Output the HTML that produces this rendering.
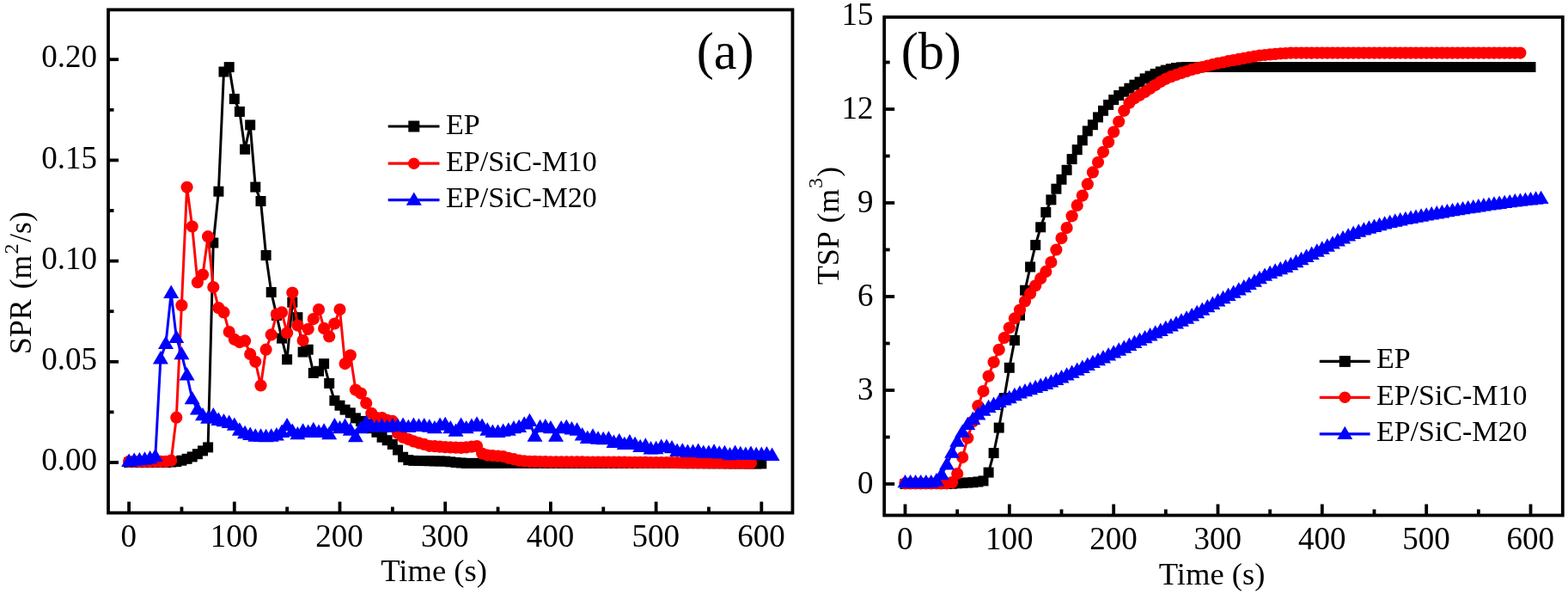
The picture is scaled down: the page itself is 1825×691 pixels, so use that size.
<!DOCTYPE html>
<html><head><meta charset="utf-8"><title>SPR and TSP curves</title>
<style>
html,body{margin:0;padding:0;background:#fff;}
svg{display:block;font-family:'Liberation Serif', 'Times New Roman', serif;}
text{fill:#000;}
</style></head>
<body>
<svg width="1825" height="691" viewBox="0 0 1825 691">
<rect width="1825" height="691" fill="#fff"/>
<path d="M150.1 538.0L156.2 538.0L162.4 538.0L168.5 538.0L174.6 538.0L180.8 538.0L186.9 538.0L193.0 538.0L199.2 537.5L205.3 537.1L211.4 535.7L217.6 533.8L223.7 531.4L229.9 528.2L236.0 524.4L242.1 520.4L248.3 282.5L254.4 222.7L260.5 83.5L266.7 78.1L272.8 115.1L278.9 129.9L285.1 173.7L291.2 145.4L297.3 217.6L303.5 234.0L309.6 297.0L315.7 339.9L321.9 366.9L328.0 393.6L334.1 418.2L340.3 351.7L346.4 369.2L352.6 409.5L358.7 406.7L364.8 433.9L371.0 431.8L377.1 423.1L383.2 445.9L389.4 466.0L395.5 471.7L401.6 476.6L407.8 480.3L413.9 486.4L420.0 489.9L426.2 493.5L432.3 498.2L438.4 502.8L444.6 508.7L450.7 512.2L456.8 516.9L463.0 523.5L469.1 531.7L475.3 535.2L481.4 535.9L487.5 536.0L493.7 536.1L499.8 536.2L505.9 536.4L512.1 536.5L518.2 536.6L524.3 537.3L530.5 538.0L536.6 538.5L542.7 538.9L548.9 538.9L555.0 538.9L561.1 538.9L567.3 538.9L573.4 538.9L579.5 538.9L585.7 538.8L591.8 538.7L598.0 538.7L604.1 538.7L610.2 538.7L616.4 538.7L622.5 538.7L628.6 538.7L634.8 538.7L640.9 538.7L647.0 538.7L653.2 538.7L659.3 538.7L665.4 538.7L671.6 538.7L677.7 538.7L683.8 538.7L690.0 538.7L696.1 538.7L702.2 538.7L708.4 538.7L714.5 538.8L720.7 538.8L726.8 538.8L732.9 538.8L739.1 538.8L745.2 538.9L751.3 538.9L757.5 538.9L763.6 538.9L769.7 539.0L775.9 539.0L782.0 539.0L788.1 539.0L794.3 539.1L800.4 539.1L806.5 539.1L812.7 539.1L818.8 539.1L824.9 539.2L831.1 539.2L837.2 539.2L843.4 539.2L849.5 539.3L855.6 539.3L861.8 539.3L867.9 539.3L874.0 539.4L880.2 539.4L886.3 539.4" fill="none" stroke="#000" stroke-width="3.0" stroke-linejoin="round"/>
<g><rect x="144.1" y="532.0" width="12.0" height="12.0" fill="#000"/><rect x="150.2" y="532.0" width="12.0" height="12.0" fill="#000"/><rect x="156.4" y="532.0" width="12.0" height="12.0" fill="#000"/><rect x="162.5" y="532.0" width="12.0" height="12.0" fill="#000"/><rect x="168.6" y="532.0" width="12.0" height="12.0" fill="#000"/><rect x="174.8" y="532.0" width="12.0" height="12.0" fill="#000"/><rect x="180.9" y="532.0" width="12.0" height="12.0" fill="#000"/><rect x="187.0" y="532.0" width="12.0" height="12.0" fill="#000"/><rect x="193.2" y="531.5" width="12.0" height="12.0" fill="#000"/><rect x="199.3" y="531.1" width="12.0" height="12.0" fill="#000"/><rect x="205.4" y="529.7" width="12.0" height="12.0" fill="#000"/><rect x="211.6" y="527.8" width="12.0" height="12.0" fill="#000"/><rect x="217.7" y="525.4" width="12.0" height="12.0" fill="#000"/><rect x="223.9" y="522.2" width="12.0" height="12.0" fill="#000"/><rect x="230.0" y="518.4" width="12.0" height="12.0" fill="#000"/><rect x="236.1" y="514.4" width="12.0" height="12.0" fill="#000"/><rect x="242.3" y="276.5" width="12.0" height="12.0" fill="#000"/><rect x="248.4" y="216.7" width="12.0" height="12.0" fill="#000"/><rect x="254.5" y="77.5" width="12.0" height="12.0" fill="#000"/><rect x="260.7" y="72.1" width="12.0" height="12.0" fill="#000"/><rect x="266.8" y="109.1" width="12.0" height="12.0" fill="#000"/><rect x="272.9" y="123.9" width="12.0" height="12.0" fill="#000"/><rect x="279.1" y="167.7" width="12.0" height="12.0" fill="#000"/><rect x="285.2" y="139.4" width="12.0" height="12.0" fill="#000"/><rect x="291.3" y="211.6" width="12.0" height="12.0" fill="#000"/><rect x="297.5" y="228.0" width="12.0" height="12.0" fill="#000"/><rect x="303.6" y="291.0" width="12.0" height="12.0" fill="#000"/><rect x="309.7" y="333.9" width="12.0" height="12.0" fill="#000"/><rect x="315.9" y="360.9" width="12.0" height="12.0" fill="#000"/><rect x="322.0" y="387.6" width="12.0" height="12.0" fill="#000"/><rect x="328.1" y="412.2" width="12.0" height="12.0" fill="#000"/><rect x="334.3" y="345.7" width="12.0" height="12.0" fill="#000"/><rect x="340.4" y="363.2" width="12.0" height="12.0" fill="#000"/><rect x="346.6" y="403.5" width="12.0" height="12.0" fill="#000"/><rect x="352.7" y="400.7" width="12.0" height="12.0" fill="#000"/><rect x="358.8" y="427.9" width="12.0" height="12.0" fill="#000"/><rect x="365.0" y="425.8" width="12.0" height="12.0" fill="#000"/><rect x="371.1" y="417.1" width="12.0" height="12.0" fill="#000"/><rect x="377.2" y="439.9" width="12.0" height="12.0" fill="#000"/><rect x="383.4" y="460.0" width="12.0" height="12.0" fill="#000"/><rect x="389.5" y="465.7" width="12.0" height="12.0" fill="#000"/><rect x="395.6" y="470.6" width="12.0" height="12.0" fill="#000"/><rect x="401.8" y="474.3" width="12.0" height="12.0" fill="#000"/><rect x="407.9" y="480.4" width="12.0" height="12.0" fill="#000"/><rect x="414.0" y="483.9" width="12.0" height="12.0" fill="#000"/><rect x="420.2" y="487.5" width="12.0" height="12.0" fill="#000"/><rect x="426.3" y="492.2" width="12.0" height="12.0" fill="#000"/><rect x="432.4" y="496.8" width="12.0" height="12.0" fill="#000"/><rect x="438.6" y="502.7" width="12.0" height="12.0" fill="#000"/><rect x="444.7" y="506.2" width="12.0" height="12.0" fill="#000"/><rect x="450.8" y="510.9" width="12.0" height="12.0" fill="#000"/><rect x="457.0" y="517.5" width="12.0" height="12.0" fill="#000"/><rect x="463.1" y="525.7" width="12.0" height="12.0" fill="#000"/><rect x="469.3" y="529.2" width="12.0" height="12.0" fill="#000"/><rect x="475.4" y="529.9" width="12.0" height="12.0" fill="#000"/><rect x="481.5" y="530.0" width="12.0" height="12.0" fill="#000"/><rect x="487.7" y="530.1" width="12.0" height="12.0" fill="#000"/><rect x="493.8" y="530.2" width="12.0" height="12.0" fill="#000"/><rect x="499.9" y="530.4" width="12.0" height="12.0" fill="#000"/><rect x="506.1" y="530.5" width="12.0" height="12.0" fill="#000"/><rect x="512.2" y="530.6" width="12.0" height="12.0" fill="#000"/><rect x="518.3" y="531.3" width="12.0" height="12.0" fill="#000"/><rect x="524.5" y="532.0" width="12.0" height="12.0" fill="#000"/><rect x="530.6" y="532.5" width="12.0" height="12.0" fill="#000"/><rect x="536.7" y="532.9" width="12.0" height="12.0" fill="#000"/><rect x="542.9" y="532.9" width="12.0" height="12.0" fill="#000"/><rect x="549.0" y="532.9" width="12.0" height="12.0" fill="#000"/><rect x="555.1" y="532.9" width="12.0" height="12.0" fill="#000"/><rect x="561.3" y="532.9" width="12.0" height="12.0" fill="#000"/><rect x="567.4" y="532.9" width="12.0" height="12.0" fill="#000"/><rect x="573.5" y="532.9" width="12.0" height="12.0" fill="#000"/><rect x="579.7" y="532.8" width="12.0" height="12.0" fill="#000"/><rect x="585.8" y="532.7" width="12.0" height="12.0" fill="#000"/><rect x="592.0" y="532.7" width="12.0" height="12.0" fill="#000"/><rect x="598.1" y="532.7" width="12.0" height="12.0" fill="#000"/><rect x="604.2" y="532.7" width="12.0" height="12.0" fill="#000"/><rect x="610.4" y="532.7" width="12.0" height="12.0" fill="#000"/><rect x="616.5" y="532.7" width="12.0" height="12.0" fill="#000"/><rect x="622.6" y="532.7" width="12.0" height="12.0" fill="#000"/><rect x="628.8" y="532.7" width="12.0" height="12.0" fill="#000"/><rect x="634.9" y="532.7" width="12.0" height="12.0" fill="#000"/><rect x="641.0" y="532.7" width="12.0" height="12.0" fill="#000"/><rect x="647.2" y="532.7" width="12.0" height="12.0" fill="#000"/><rect x="653.3" y="532.7" width="12.0" height="12.0" fill="#000"/><rect x="659.4" y="532.7" width="12.0" height="12.0" fill="#000"/><rect x="665.6" y="532.7" width="12.0" height="12.0" fill="#000"/><rect x="671.7" y="532.7" width="12.0" height="12.0" fill="#000"/><rect x="677.8" y="532.7" width="12.0" height="12.0" fill="#000"/><rect x="684.0" y="532.7" width="12.0" height="12.0" fill="#000"/><rect x="690.1" y="532.7" width="12.0" height="12.0" fill="#000"/><rect x="696.2" y="532.7" width="12.0" height="12.0" fill="#000"/><rect x="702.4" y="532.7" width="12.0" height="12.0" fill="#000"/><rect x="708.5" y="532.8" width="12.0" height="12.0" fill="#000"/><rect x="714.7" y="532.8" width="12.0" height="12.0" fill="#000"/><rect x="720.8" y="532.8" width="12.0" height="12.0" fill="#000"/><rect x="726.9" y="532.8" width="12.0" height="12.0" fill="#000"/><rect x="733.1" y="532.8" width="12.0" height="12.0" fill="#000"/><rect x="739.2" y="532.9" width="12.0" height="12.0" fill="#000"/><rect x="745.3" y="532.9" width="12.0" height="12.0" fill="#000"/><rect x="751.5" y="532.9" width="12.0" height="12.0" fill="#000"/><rect x="757.6" y="532.9" width="12.0" height="12.0" fill="#000"/><rect x="763.7" y="533.0" width="12.0" height="12.0" fill="#000"/><rect x="769.9" y="533.0" width="12.0" height="12.0" fill="#000"/><rect x="776.0" y="533.0" width="12.0" height="12.0" fill="#000"/><rect x="782.1" y="533.0" width="12.0" height="12.0" fill="#000"/><rect x="788.3" y="533.1" width="12.0" height="12.0" fill="#000"/><rect x="794.4" y="533.1" width="12.0" height="12.0" fill="#000"/><rect x="800.5" y="533.1" width="12.0" height="12.0" fill="#000"/><rect x="806.7" y="533.1" width="12.0" height="12.0" fill="#000"/><rect x="812.8" y="533.1" width="12.0" height="12.0" fill="#000"/><rect x="818.9" y="533.2" width="12.0" height="12.0" fill="#000"/><rect x="825.1" y="533.2" width="12.0" height="12.0" fill="#000"/><rect x="831.2" y="533.2" width="12.0" height="12.0" fill="#000"/><rect x="837.4" y="533.2" width="12.0" height="12.0" fill="#000"/><rect x="843.5" y="533.3" width="12.0" height="12.0" fill="#000"/><rect x="849.6" y="533.3" width="12.0" height="12.0" fill="#000"/><rect x="855.8" y="533.3" width="12.0" height="12.0" fill="#000"/><rect x="861.9" y="533.3" width="12.0" height="12.0" fill="#000"/><rect x="868.0" y="533.4" width="12.0" height="12.0" fill="#000"/><rect x="874.2" y="533.4" width="12.0" height="12.0" fill="#000"/><rect x="880.3" y="533.4" width="12.0" height="12.0" fill="#000"/></g>
<path d="M150.1 536.8L156.2 536.8L162.4 536.8L168.5 536.8L174.6 536.8L180.8 536.8L186.9 536.8L193.0 536.8L199.2 535.7L205.3 485.7L211.4 355.2L217.6 217.8L223.7 263.5L229.9 328.4L236.0 319.5L242.1 275.2L248.3 334.1L254.4 358.2L260.5 363.4L266.7 386.1L272.8 394.8L278.9 398.1L285.1 396.4L291.2 411.9L297.3 420.8L303.5 448.5L309.6 406.7L315.7 389.4L321.9 365.7L328.0 363.4L334.1 387.3L340.3 340.6L346.4 378.6L352.6 396.0L358.7 382.8L364.8 371.1L371.0 360.1L377.1 381.9L383.2 391.5L389.4 376.5L395.5 360.1L401.6 423.1L407.8 413.3L413.9 453.6L420.0 457.6L426.2 468.9L432.3 480.8L438.4 486.0L444.6 486.0L450.7 488.8L456.8 489.9L463.0 504.0L469.1 508.7L475.3 511.0L481.4 513.4L487.5 515.3L493.7 516.9L499.8 518.8L505.9 519.2L512.1 519.7L518.2 520.2L524.3 520.4L530.5 520.7L536.6 520.9L542.7 520.4L548.9 519.7L555.0 519.0L561.1 527.5L567.3 529.6L573.4 530.0L579.5 530.5L585.7 531.0L591.8 532.8L598.0 534.2L604.1 535.7L610.2 536.4L616.4 536.8L622.5 536.9L628.6 537.1L634.8 537.2L640.9 537.3L647.0 537.3L653.2 537.3L659.3 537.4L665.4 537.4L671.6 537.4L677.7 537.4L683.8 537.5L690.0 537.5L696.1 537.5L702.2 537.5L708.4 537.6L714.5 537.6L720.7 537.7L726.8 537.7L732.9 537.8L739.1 537.8L745.2 537.9L751.3 537.9L757.5 538.0L763.6 538.0L769.7 538.0L775.9 538.1L782.0 538.1L788.1 538.2L794.3 538.2L800.4 538.3L806.5 538.3L812.7 538.4L818.8 538.4L824.9 538.5L831.1 538.5L837.2 538.5L843.4 538.6L849.5 538.6L855.6 538.6L861.8 538.6L867.9 538.7L874.0 538.7" fill="none" stroke="#ff0000" stroke-width="3.0" stroke-linejoin="round"/>
<g><circle cx="150.1" cy="536.8" r="7.1" fill="#ff0000"/><circle cx="156.2" cy="536.8" r="7.1" fill="#ff0000"/><circle cx="162.4" cy="536.8" r="7.1" fill="#ff0000"/><circle cx="168.5" cy="536.8" r="7.1" fill="#ff0000"/><circle cx="174.6" cy="536.8" r="7.1" fill="#ff0000"/><circle cx="180.8" cy="536.8" r="7.1" fill="#ff0000"/><circle cx="186.9" cy="536.8" r="7.1" fill="#ff0000"/><circle cx="193.0" cy="536.8" r="7.1" fill="#ff0000"/><circle cx="199.2" cy="535.7" r="7.1" fill="#ff0000"/><circle cx="205.3" cy="485.7" r="7.1" fill="#ff0000"/><circle cx="211.4" cy="355.2" r="7.1" fill="#ff0000"/><circle cx="217.6" cy="217.8" r="7.1" fill="#ff0000"/><circle cx="223.7" cy="263.5" r="7.1" fill="#ff0000"/><circle cx="229.9" cy="328.4" r="7.1" fill="#ff0000"/><circle cx="236.0" cy="319.5" r="7.1" fill="#ff0000"/><circle cx="242.1" cy="275.2" r="7.1" fill="#ff0000"/><circle cx="248.3" cy="334.1" r="7.1" fill="#ff0000"/><circle cx="254.4" cy="358.2" r="7.1" fill="#ff0000"/><circle cx="260.5" cy="363.4" r="7.1" fill="#ff0000"/><circle cx="266.7" cy="386.1" r="7.1" fill="#ff0000"/><circle cx="272.8" cy="394.8" r="7.1" fill="#ff0000"/><circle cx="278.9" cy="398.1" r="7.1" fill="#ff0000"/><circle cx="285.1" cy="396.4" r="7.1" fill="#ff0000"/><circle cx="291.2" cy="411.9" r="7.1" fill="#ff0000"/><circle cx="297.3" cy="420.8" r="7.1" fill="#ff0000"/><circle cx="303.5" cy="448.5" r="7.1" fill="#ff0000"/><circle cx="309.6" cy="406.7" r="7.1" fill="#ff0000"/><circle cx="315.7" cy="389.4" r="7.1" fill="#ff0000"/><circle cx="321.9" cy="365.7" r="7.1" fill="#ff0000"/><circle cx="328.0" cy="363.4" r="7.1" fill="#ff0000"/><circle cx="334.1" cy="387.3" r="7.1" fill="#ff0000"/><circle cx="340.3" cy="340.6" r="7.1" fill="#ff0000"/><circle cx="346.4" cy="378.6" r="7.1" fill="#ff0000"/><circle cx="352.6" cy="396.0" r="7.1" fill="#ff0000"/><circle cx="358.7" cy="382.8" r="7.1" fill="#ff0000"/><circle cx="364.8" cy="371.1" r="7.1" fill="#ff0000"/><circle cx="371.0" cy="360.1" r="7.1" fill="#ff0000"/><circle cx="377.1" cy="381.9" r="7.1" fill="#ff0000"/><circle cx="383.2" cy="391.5" r="7.1" fill="#ff0000"/><circle cx="389.4" cy="376.5" r="7.1" fill="#ff0000"/><circle cx="395.5" cy="360.1" r="7.1" fill="#ff0000"/><circle cx="401.6" cy="423.1" r="7.1" fill="#ff0000"/><circle cx="407.8" cy="413.3" r="7.1" fill="#ff0000"/><circle cx="413.9" cy="453.6" r="7.1" fill="#ff0000"/><circle cx="420.0" cy="457.6" r="7.1" fill="#ff0000"/><circle cx="426.2" cy="468.9" r="7.1" fill="#ff0000"/><circle cx="432.3" cy="480.8" r="7.1" fill="#ff0000"/><circle cx="438.4" cy="486.0" r="7.1" fill="#ff0000"/><circle cx="444.6" cy="486.0" r="7.1" fill="#ff0000"/><circle cx="450.7" cy="488.8" r="7.1" fill="#ff0000"/><circle cx="456.8" cy="489.9" r="7.1" fill="#ff0000"/><circle cx="463.0" cy="504.0" r="7.1" fill="#ff0000"/><circle cx="469.1" cy="508.7" r="7.1" fill="#ff0000"/><circle cx="475.3" cy="511.0" r="7.1" fill="#ff0000"/><circle cx="481.4" cy="513.4" r="7.1" fill="#ff0000"/><circle cx="487.5" cy="515.3" r="7.1" fill="#ff0000"/><circle cx="493.7" cy="516.9" r="7.1" fill="#ff0000"/><circle cx="499.8" cy="518.8" r="7.1" fill="#ff0000"/><circle cx="505.9" cy="519.2" r="7.1" fill="#ff0000"/><circle cx="512.1" cy="519.7" r="7.1" fill="#ff0000"/><circle cx="518.2" cy="520.2" r="7.1" fill="#ff0000"/><circle cx="524.3" cy="520.4" r="7.1" fill="#ff0000"/><circle cx="530.5" cy="520.7" r="7.1" fill="#ff0000"/><circle cx="536.6" cy="520.9" r="7.1" fill="#ff0000"/><circle cx="542.7" cy="520.4" r="7.1" fill="#ff0000"/><circle cx="548.9" cy="519.7" r="7.1" fill="#ff0000"/><circle cx="555.0" cy="519.0" r="7.1" fill="#ff0000"/><circle cx="561.1" cy="527.5" r="7.1" fill="#ff0000"/><circle cx="567.3" cy="529.6" r="7.1" fill="#ff0000"/><circle cx="573.4" cy="530.0" r="7.1" fill="#ff0000"/><circle cx="579.5" cy="530.5" r="7.1" fill="#ff0000"/><circle cx="585.7" cy="531.0" r="7.1" fill="#ff0000"/><circle cx="591.8" cy="532.8" r="7.1" fill="#ff0000"/><circle cx="598.0" cy="534.2" r="7.1" fill="#ff0000"/><circle cx="604.1" cy="535.7" r="7.1" fill="#ff0000"/><circle cx="610.2" cy="536.4" r="7.1" fill="#ff0000"/><circle cx="616.4" cy="536.8" r="7.1" fill="#ff0000"/><circle cx="622.5" cy="536.9" r="7.1" fill="#ff0000"/><circle cx="628.6" cy="537.1" r="7.1" fill="#ff0000"/><circle cx="634.8" cy="537.2" r="7.1" fill="#ff0000"/><circle cx="640.9" cy="537.3" r="7.1" fill="#ff0000"/><circle cx="647.0" cy="537.3" r="7.1" fill="#ff0000"/><circle cx="653.2" cy="537.3" r="7.1" fill="#ff0000"/><circle cx="659.3" cy="537.4" r="7.1" fill="#ff0000"/><circle cx="665.4" cy="537.4" r="7.1" fill="#ff0000"/><circle cx="671.6" cy="537.4" r="7.1" fill="#ff0000"/><circle cx="677.7" cy="537.4" r="7.1" fill="#ff0000"/><circle cx="683.8" cy="537.5" r="7.1" fill="#ff0000"/><circle cx="690.0" cy="537.5" r="7.1" fill="#ff0000"/><circle cx="696.1" cy="537.5" r="7.1" fill="#ff0000"/><circle cx="702.2" cy="537.5" r="7.1" fill="#ff0000"/><circle cx="708.4" cy="537.6" r="7.1" fill="#ff0000"/><circle cx="714.5" cy="537.6" r="7.1" fill="#ff0000"/><circle cx="720.7" cy="537.7" r="7.1" fill="#ff0000"/><circle cx="726.8" cy="537.7" r="7.1" fill="#ff0000"/><circle cx="732.9" cy="537.8" r="7.1" fill="#ff0000"/><circle cx="739.1" cy="537.8" r="7.1" fill="#ff0000"/><circle cx="745.2" cy="537.9" r="7.1" fill="#ff0000"/><circle cx="751.3" cy="537.9" r="7.1" fill="#ff0000"/><circle cx="757.5" cy="538.0" r="7.1" fill="#ff0000"/><circle cx="763.6" cy="538.0" r="7.1" fill="#ff0000"/><circle cx="769.7" cy="538.0" r="7.1" fill="#ff0000"/><circle cx="775.9" cy="538.1" r="7.1" fill="#ff0000"/><circle cx="782.0" cy="538.1" r="7.1" fill="#ff0000"/><circle cx="788.1" cy="538.2" r="7.1" fill="#ff0000"/><circle cx="794.3" cy="538.2" r="7.1" fill="#ff0000"/><circle cx="800.4" cy="538.3" r="7.1" fill="#ff0000"/><circle cx="806.5" cy="538.3" r="7.1" fill="#ff0000"/><circle cx="812.7" cy="538.4" r="7.1" fill="#ff0000"/><circle cx="818.8" cy="538.4" r="7.1" fill="#ff0000"/><circle cx="824.9" cy="538.5" r="7.1" fill="#ff0000"/><circle cx="831.1" cy="538.5" r="7.1" fill="#ff0000"/><circle cx="837.2" cy="538.5" r="7.1" fill="#ff0000"/><circle cx="843.4" cy="538.6" r="7.1" fill="#ff0000"/><circle cx="849.5" cy="538.6" r="7.1" fill="#ff0000"/><circle cx="855.6" cy="538.6" r="7.1" fill="#ff0000"/><circle cx="861.8" cy="538.6" r="7.1" fill="#ff0000"/><circle cx="867.9" cy="538.7" r="7.1" fill="#ff0000"/><circle cx="874.0" cy="538.7" r="7.1" fill="#ff0000"/></g>
<path d="M150.1 536.8L156.2 535.7L162.4 535.2L168.5 534.5L174.6 533.3L180.8 531.0L186.9 417.3L193.0 399.7L199.2 340.9L205.3 392.9L211.4 412.1L217.6 436.3L223.7 464.2L229.9 476.4L236.0 483.2L242.1 486.7L248.3 483.2L254.4 488.8L260.5 490.2L266.7 491.8L272.8 494.6L278.9 500.5L285.1 504.0L291.2 505.9L297.3 507.5L303.5 507.5L309.6 508.0L315.7 507.5L321.9 506.4L328.0 502.8L334.1 495.1L340.3 501.7L346.4 505.2L352.6 501.4L358.7 502.8L364.8 500.0L371.0 502.8L377.1 501.4L383.2 505.2L389.4 495.1L395.5 498.2L401.6 495.8L407.8 500.5L413.9 508.0L420.0 498.2L426.2 492.1L432.3 495.8L438.4 497.0L444.6 495.8L450.7 497.0L456.8 495.1L463.0 495.8L469.1 494.6L475.3 497.0L481.4 494.6L487.5 495.8L493.7 495.1L499.8 496.5L505.9 498.2L512.1 494.6L518.2 493.9L524.3 498.2L530.5 501.7L536.6 494.6L542.7 498.2L548.9 495.8L555.0 493.5L561.1 495.8L567.3 500.5L573.4 502.8L579.5 502.8L585.7 501.7L591.8 500.5L598.0 498.2L604.1 497.0L610.2 493.5L616.4 489.9L622.5 507.5L628.6 497.0L634.8 496.3L640.9 498.2L647.0 507.5L653.2 498.2L659.3 497.0L665.4 499.3L671.6 500.5L677.7 506.4L683.8 509.9L690.0 507.5L696.1 510.6L702.2 511.0L708.4 510.6L714.5 514.8L720.7 513.2L726.8 516.9L732.9 514.3L739.1 516.9L745.2 520.0L751.3 518.5L757.5 522.3L763.6 522.1L769.7 519.6L775.9 519.7L782.0 521.1L788.1 524.9L794.3 524.4L800.4 525.8L806.5 525.7L812.7 524.6L818.8 526.6L824.9 526.7L831.1 525.5L837.2 527.5L843.4 527.0L849.5 529.1L855.6 526.7L861.8 527.9L867.9 528.7L874.0 527.7L880.2 529.0L886.3 528.9L892.4 528.3L898.6 529.8" fill="none" stroke="#0000ff" stroke-width="3.0" stroke-linejoin="round"/>
<g><path d="M150.1 527.6L159.1 543.0L141.1 543.0Z" fill="#0000ff"/><path d="M156.2 526.4L165.2 541.8L147.2 541.8Z" fill="#0000ff"/><path d="M162.4 525.9L171.4 541.3L153.4 541.3Z" fill="#0000ff"/><path d="M168.5 525.2L177.5 540.6L159.5 540.6Z" fill="#0000ff"/><path d="M174.6 524.1L183.6 539.5L165.6 539.5Z" fill="#0000ff"/><path d="M180.8 521.7L189.8 537.1L171.8 537.1Z" fill="#0000ff"/><path d="M186.9 408.0L195.9 423.4L177.9 423.4Z" fill="#0000ff"/><path d="M193.0 390.5L202.0 405.9L184.0 405.9Z" fill="#0000ff"/><path d="M199.2 331.6L208.2 347.0L190.2 347.0Z" fill="#0000ff"/><path d="M205.3 383.7L214.3 399.1L196.3 399.1Z" fill="#0000ff"/><path d="M211.4 402.9L220.4 418.3L202.4 418.3Z" fill="#0000ff"/><path d="M217.6 427.0L226.6 442.4L208.6 442.4Z" fill="#0000ff"/><path d="M223.7 454.9L232.7 470.3L214.7 470.3Z" fill="#0000ff"/><path d="M229.9 467.1L238.9 482.5L220.9 482.5Z" fill="#0000ff"/><path d="M236.0 473.9L245.0 489.3L227.0 489.3Z" fill="#0000ff"/><path d="M242.1 477.4L251.1 492.8L233.1 492.8Z" fill="#0000ff"/><path d="M248.3 473.9L257.3 489.3L239.3 489.3Z" fill="#0000ff"/><path d="M254.4 479.5L263.4 494.9L245.4 494.9Z" fill="#0000ff"/><path d="M260.5 480.9L269.5 496.3L251.5 496.3Z" fill="#0000ff"/><path d="M266.7 482.6L275.7 498.0L257.7 498.0Z" fill="#0000ff"/><path d="M272.8 485.4L281.8 500.8L263.8 500.8Z" fill="#0000ff"/><path d="M278.9 491.3L287.9 506.7L269.9 506.7Z" fill="#0000ff"/><path d="M285.1 494.8L294.1 510.2L276.1 510.2Z" fill="#0000ff"/><path d="M291.2 496.6L300.2 512.0L282.2 512.0Z" fill="#0000ff"/><path d="M297.3 498.3L306.3 513.7L288.3 513.7Z" fill="#0000ff"/><path d="M303.5 498.3L312.5 513.7L294.5 513.7Z" fill="#0000ff"/><path d="M309.6 498.8L318.6 514.2L300.6 514.2Z" fill="#0000ff"/><path d="M315.7 498.3L324.7 513.7L306.7 513.7Z" fill="#0000ff"/><path d="M321.9 497.1L330.9 512.5L312.9 512.5Z" fill="#0000ff"/><path d="M328.0 493.6L337.0 509.0L319.0 509.0Z" fill="#0000ff"/><path d="M334.1 485.9L343.1 501.3L325.1 501.3Z" fill="#0000ff"/><path d="M340.3 492.4L349.3 507.8L331.3 507.8Z" fill="#0000ff"/><path d="M346.4 495.9L355.4 511.3L337.4 511.3Z" fill="#0000ff"/><path d="M352.6 492.2L361.6 507.6L343.6 507.6Z" fill="#0000ff"/><path d="M358.7 493.6L367.7 509.0L349.7 509.0Z" fill="#0000ff"/><path d="M364.8 490.8L373.8 506.2L355.8 506.2Z" fill="#0000ff"/><path d="M371.0 493.6L380.0 509.0L362.0 509.0Z" fill="#0000ff"/><path d="M377.1 492.2L386.1 507.6L368.1 507.6Z" fill="#0000ff"/><path d="M383.2 495.9L392.2 511.3L374.2 511.3Z" fill="#0000ff"/><path d="M389.4 485.9L398.4 501.3L380.4 501.3Z" fill="#0000ff"/><path d="M395.5 488.9L404.5 504.3L386.5 504.3Z" fill="#0000ff"/><path d="M401.6 486.6L410.6 502.0L392.6 502.0Z" fill="#0000ff"/><path d="M407.8 491.3L416.8 506.7L398.8 506.7Z" fill="#0000ff"/><path d="M413.9 498.8L422.9 514.2L404.9 514.2Z" fill="#0000ff"/><path d="M420.0 488.9L429.0 504.3L411.0 504.3Z" fill="#0000ff"/><path d="M426.2 482.8L435.2 498.2L417.2 498.2Z" fill="#0000ff"/><path d="M432.3 486.6L441.3 502.0L423.3 502.0Z" fill="#0000ff"/><path d="M438.4 487.7L447.4 503.1L429.4 503.1Z" fill="#0000ff"/><path d="M444.6 486.6L453.6 502.0L435.6 502.0Z" fill="#0000ff"/><path d="M450.7 487.7L459.7 503.1L441.7 503.1Z" fill="#0000ff"/><path d="M456.8 485.9L465.8 501.3L447.8 501.3Z" fill="#0000ff"/><path d="M463.0 486.6L472.0 502.0L454.0 502.0Z" fill="#0000ff"/><path d="M469.1 485.4L478.1 500.8L460.1 500.8Z" fill="#0000ff"/><path d="M475.3 487.7L484.3 503.1L466.3 503.1Z" fill="#0000ff"/><path d="M481.4 485.4L490.4 500.8L472.4 500.8Z" fill="#0000ff"/><path d="M487.5 486.6L496.5 502.0L478.5 502.0Z" fill="#0000ff"/><path d="M493.7 485.9L502.7 501.3L484.7 501.3Z" fill="#0000ff"/><path d="M499.8 487.3L508.8 502.7L490.8 502.7Z" fill="#0000ff"/><path d="M505.9 488.9L514.9 504.3L496.9 504.3Z" fill="#0000ff"/><path d="M512.1 485.4L521.1 500.8L503.1 500.8Z" fill="#0000ff"/><path d="M518.2 484.7L527.2 500.1L509.2 500.1Z" fill="#0000ff"/><path d="M524.3 488.9L533.3 504.3L515.3 504.3Z" fill="#0000ff"/><path d="M530.5 492.4L539.5 507.8L521.5 507.8Z" fill="#0000ff"/><path d="M536.6 485.4L545.6 500.8L527.6 500.8Z" fill="#0000ff"/><path d="M542.7 488.9L551.7 504.3L533.7 504.3Z" fill="#0000ff"/><path d="M548.9 486.6L557.9 502.0L539.9 502.0Z" fill="#0000ff"/><path d="M555.0 484.2L564.0 499.6L546.0 499.6Z" fill="#0000ff"/><path d="M561.1 486.6L570.1 502.0L552.1 502.0Z" fill="#0000ff"/><path d="M567.3 491.3L576.3 506.7L558.3 506.7Z" fill="#0000ff"/><path d="M573.4 493.6L582.4 509.0L564.4 509.0Z" fill="#0000ff"/><path d="M579.5 493.6L588.5 509.0L570.5 509.0Z" fill="#0000ff"/><path d="M585.7 492.4L594.7 507.8L576.7 507.8Z" fill="#0000ff"/><path d="M591.8 491.3L600.8 506.7L582.8 506.7Z" fill="#0000ff"/><path d="M598.0 488.9L607.0 504.3L589.0 504.3Z" fill="#0000ff"/><path d="M604.1 487.7L613.1 503.1L595.1 503.1Z" fill="#0000ff"/><path d="M610.2 484.2L619.2 499.6L601.2 499.6Z" fill="#0000ff"/><path d="M616.4 480.7L625.4 496.1L607.4 496.1Z" fill="#0000ff"/><path d="M622.5 498.3L631.5 513.7L613.5 513.7Z" fill="#0000ff"/><path d="M628.6 487.7L637.6 503.1L619.6 503.1Z" fill="#0000ff"/><path d="M634.8 487.0L643.8 502.4L625.8 502.4Z" fill="#0000ff"/><path d="M640.9 488.9L649.9 504.3L631.9 504.3Z" fill="#0000ff"/><path d="M647.0 498.3L656.0 513.7L638.0 513.7Z" fill="#0000ff"/><path d="M653.2 488.9L662.2 504.3L644.2 504.3Z" fill="#0000ff"/><path d="M659.3 487.7L668.3 503.1L650.3 503.1Z" fill="#0000ff"/><path d="M665.4 490.1L674.4 505.5L656.4 505.5Z" fill="#0000ff"/><path d="M671.6 491.3L680.6 506.7L662.6 506.7Z" fill="#0000ff"/><path d="M677.7 497.1L686.7 512.5L668.7 512.5Z" fill="#0000ff"/><path d="M683.8 500.6L692.8 516.0L674.8 516.0Z" fill="#0000ff"/><path d="M690.0 498.3L699.0 513.7L681.0 513.7Z" fill="#0000ff"/><path d="M696.1 501.3L705.1 516.7L687.1 516.7Z" fill="#0000ff"/><path d="M702.2 501.8L711.2 517.2L693.2 517.2Z" fill="#0000ff"/><path d="M708.4 501.3L717.4 516.7L699.4 516.7Z" fill="#0000ff"/><path d="M714.5 505.6L723.5 521.0L705.5 521.0Z" fill="#0000ff"/><path d="M720.7 503.9L729.7 519.3L711.7 519.3Z" fill="#0000ff"/><path d="M726.8 507.7L735.8 523.1L717.8 523.1Z" fill="#0000ff"/><path d="M732.9 505.1L741.9 520.5L723.9 520.5Z" fill="#0000ff"/><path d="M739.1 507.7L748.1 523.1L730.1 523.1Z" fill="#0000ff"/><path d="M745.2 510.7L754.2 526.1L736.2 526.1Z" fill="#0000ff"/><path d="M751.3 509.3L760.3 524.7L742.3 524.7Z" fill="#0000ff"/><path d="M757.5 513.1L766.5 528.5L748.5 528.5Z" fill="#0000ff"/><path d="M763.6 512.8L772.6 528.2L754.6 528.2Z" fill="#0000ff"/><path d="M769.7 510.4L778.7 525.8L760.7 525.8Z" fill="#0000ff"/><path d="M775.9 510.5L784.9 525.9L766.9 525.9Z" fill="#0000ff"/><path d="M782.0 511.9L791.0 527.3L773.0 527.3Z" fill="#0000ff"/><path d="M788.1 515.6L797.1 531.0L779.1 531.0Z" fill="#0000ff"/><path d="M794.3 515.2L803.3 530.6L785.3 530.6Z" fill="#0000ff"/><path d="M800.4 516.6L809.4 532.0L791.4 532.0Z" fill="#0000ff"/><path d="M806.5 516.5L815.5 531.9L797.5 531.9Z" fill="#0000ff"/><path d="M812.7 515.4L821.7 530.8L803.7 530.8Z" fill="#0000ff"/><path d="M818.8 517.4L827.8 532.8L809.8 532.8Z" fill="#0000ff"/><path d="M824.9 517.5L833.9 532.9L815.9 532.9Z" fill="#0000ff"/><path d="M831.1 516.2L840.1 531.6L822.1 531.6Z" fill="#0000ff"/><path d="M837.2 518.2L846.2 533.6L828.2 533.6Z" fill="#0000ff"/><path d="M843.4 517.7L852.4 533.1L834.4 533.1Z" fill="#0000ff"/><path d="M849.5 519.9L858.5 535.3L840.5 535.3Z" fill="#0000ff"/><path d="M855.6 517.5L864.6 532.9L846.6 532.9Z" fill="#0000ff"/><path d="M861.8 518.7L870.8 534.1L852.8 534.1Z" fill="#0000ff"/><path d="M867.9 519.5L876.9 534.9L858.9 534.9Z" fill="#0000ff"/><path d="M874.0 518.4L883.0 533.8L865.0 533.8Z" fill="#0000ff"/><path d="M880.2 519.7L889.2 535.1L871.2 535.1Z" fill="#0000ff"/><path d="M886.3 519.6L895.3 535.0L877.3 535.0Z" fill="#0000ff"/><path d="M892.4 519.0L901.4 534.4L883.4 534.4Z" fill="#0000ff"/><path d="M898.6 520.6L907.6 536.0L889.6 536.0Z" fill="#0000ff"/></g>
<rect x="126.0" y="11.35" width="796.45" height="585.25" fill="none" stroke="#000" stroke-width="3.8"/>
<line x1="126.0" y1="538.00" x2="138.0" y2="538.00" stroke="#000" stroke-width="3.8"/>
<text x="112.90" y="547.20" font-size="37" text-anchor="end">0.00</text>
<line x1="126.0" y1="479.40" x2="132.5" y2="479.40" stroke="#000" stroke-width="3.8"/>
<line x1="126.0" y1="420.80" x2="138.0" y2="420.80" stroke="#000" stroke-width="3.8"/>
<text x="112.90" y="430.00" font-size="37" text-anchor="end">0.05</text>
<line x1="126.0" y1="362.20" x2="132.5" y2="362.20" stroke="#000" stroke-width="3.8"/>
<line x1="126.0" y1="303.60" x2="138.0" y2="303.60" stroke="#000" stroke-width="3.8"/>
<text x="112.90" y="312.80" font-size="37" text-anchor="end">0.10</text>
<line x1="126.0" y1="245.00" x2="132.5" y2="245.00" stroke="#000" stroke-width="3.8"/>
<line x1="126.0" y1="186.40" x2="138.0" y2="186.40" stroke="#000" stroke-width="3.8"/>
<text x="112.90" y="195.60" font-size="37" text-anchor="end">0.15</text>
<line x1="126.0" y1="127.80" x2="132.5" y2="127.80" stroke="#000" stroke-width="3.8"/>
<line x1="126.0" y1="69.20" x2="138.0" y2="69.20" stroke="#000" stroke-width="3.8"/>
<text x="112.90" y="78.40" font-size="37" text-anchor="end">0.20</text>
<line x1="150.10" y1="596.6" x2="150.10" y2="583.6" stroke="#000" stroke-width="3.8"/>
<text x="149.70" y="635.70" font-size="37" text-anchor="middle">0</text>
<line x1="211.45" y1="596.6" x2="211.45" y2="589.6" stroke="#000" stroke-width="3.8"/>
<line x1="272.80" y1="596.6" x2="272.80" y2="583.6" stroke="#000" stroke-width="3.8"/>
<text x="272.40" y="635.70" font-size="37" text-anchor="middle">100</text>
<line x1="334.15" y1="596.6" x2="334.15" y2="589.6" stroke="#000" stroke-width="3.8"/>
<line x1="395.50" y1="596.6" x2="395.50" y2="583.6" stroke="#000" stroke-width="3.8"/>
<text x="395.10" y="635.70" font-size="37" text-anchor="middle">200</text>
<line x1="456.85" y1="596.6" x2="456.85" y2="589.6" stroke="#000" stroke-width="3.8"/>
<line x1="518.20" y1="596.6" x2="518.20" y2="583.6" stroke="#000" stroke-width="3.8"/>
<text x="517.80" y="635.70" font-size="37" text-anchor="middle">300</text>
<line x1="579.55" y1="596.6" x2="579.55" y2="589.6" stroke="#000" stroke-width="3.8"/>
<line x1="640.90" y1="596.6" x2="640.90" y2="583.6" stroke="#000" stroke-width="3.8"/>
<text x="640.50" y="635.70" font-size="37" text-anchor="middle">400</text>
<line x1="702.25" y1="596.6" x2="702.25" y2="589.6" stroke="#000" stroke-width="3.8"/>
<line x1="763.60" y1="596.6" x2="763.60" y2="583.6" stroke="#000" stroke-width="3.8"/>
<text x="763.20" y="635.70" font-size="37" text-anchor="middle">500</text>
<line x1="824.95" y1="596.6" x2="824.95" y2="589.6" stroke="#000" stroke-width="3.8"/>
<line x1="886.30" y1="596.6" x2="886.30" y2="583.6" stroke="#000" stroke-width="3.8"/>
<text x="885.90" y="635.70" font-size="37" text-anchor="middle">600</text>
<text x="443.30" y="675.80" font-size="36.6">Time (s)</text>
<text transform="translate(36.3,0) rotate(-90)" font-size="35.5"><tspan x="-412.3" font-size="36">SPR</tspan><tspan x="-336.3">(m</tspan><tspan dx="1.3" dy="-15.3" font-size="24">2</tspan><tspan dx="1.8" dy="15.3">/s)</tspan></text>
<text x="844.20" y="80.20" font-size="60.3" text-anchor="middle">(a)</text>
<line x1="451.7" y1="147" x2="511.5" y2="147" stroke="#000" stroke-width="3.2"/>
<rect x="475.3" y="140.5" width="13.0" height="13.0" fill="#000"/>
<text x="519.10" y="155.80" font-size="34">EP</text>
<line x1="451.7" y1="190.2" x2="511.5" y2="190.2" stroke="#ff0000" stroke-width="3.2"/>
<circle cx="481.8" cy="190.2" r="6.8" fill="#ff0000"/>
<text x="519.10" y="198.50" font-size="34">EP/SiC-M10</text>
<line x1="451.7" y1="232.6" x2="511.5" y2="232.6" stroke="#0000ff" stroke-width="3.2"/>
<path d="M481.8 223.4L490.8 238.8L472.8 238.8Z" fill="#0000ff"/>
<text x="519.10" y="241.20" font-size="34">EP/SiC-M20</text>
<path d="M1053.5 563.0L1059.6 563.0L1065.6 563.0L1071.7 563.0L1077.8 563.0L1083.8 563.0L1089.9 563.0L1096.0 563.0L1102.0 563.0L1108.1 562.6L1114.2 562.3L1120.2 561.9L1126.3 561.5L1132.4 561.2L1138.4 560.5L1144.5 559.4L1150.6 549.6L1156.6 527.0L1162.7 497.6L1168.8 463.1L1174.8 427.8L1180.9 395.9L1187.0 366.8L1193.0 337.7L1199.1 310.5L1205.2 285.1L1211.2 264.3L1217.3 246.9L1223.4 232.4L1229.4 219.7L1235.5 208.8L1241.6 197.8L1247.6 185.1L1253.7 174.2L1259.8 163.3L1265.8 152.4L1271.9 145.2L1278.0 136.4L1284.0 128.8L1290.1 121.9L1296.2 116.1L1302.2 111.0L1308.3 106.7L1314.4 102.7L1320.4 98.7L1326.5 95.4L1332.6 91.4L1338.6 88.5L1344.7 85.9L1350.8 83.4L1356.8 81.6L1362.9 80.1L1369.0 79.0L1375.0 78.3L1381.1 78.0L1387.2 78.0L1393.2 78.0L1399.3 78.0L1405.4 78.0L1411.4 78.0L1417.5 78.0L1423.6 78.0L1429.6 78.0L1435.7 78.0L1441.8 78.0L1447.8 78.0L1453.9 78.0L1460.0 78.0L1466.0 78.0L1472.1 78.0L1478.2 78.0L1484.2 78.0L1490.3 78.0L1496.4 78.0L1502.4 78.0L1508.5 78.0L1514.6 78.0L1520.6 78.0L1526.7 78.0L1532.8 78.0L1538.8 78.0L1544.9 78.0L1551.0 78.0L1557.0 78.0L1563.1 78.0L1569.2 78.0L1575.2 78.0L1581.3 78.0L1587.4 78.0L1593.4 78.0L1599.5 78.0L1605.6 78.0L1611.6 78.0L1617.7 78.0L1623.8 78.0L1629.8 78.0L1635.9 78.0L1642.0 78.0L1648.0 78.0L1654.1 78.0L1660.2 78.0L1666.2 78.0L1672.3 78.0L1678.4 78.0L1684.4 78.0L1690.5 78.0L1696.6 78.0L1702.6 78.0L1708.7 78.0L1714.8 78.0L1720.8 78.0L1726.9 78.0L1733.0 78.0L1739.0 78.0L1745.1 78.0L1751.2 78.0L1757.2 78.0L1763.3 78.0L1769.4 78.0L1775.4 78.0L1781.5 78.0" fill="none" stroke="#000" stroke-width="3.0" stroke-linejoin="round"/>
<g><rect x="1047.5" y="557.0" width="12.0" height="12.0" fill="#000"/><rect x="1053.6" y="557.0" width="12.0" height="12.0" fill="#000"/><rect x="1059.6" y="557.0" width="12.0" height="12.0" fill="#000"/><rect x="1065.7" y="557.0" width="12.0" height="12.0" fill="#000"/><rect x="1071.8" y="557.0" width="12.0" height="12.0" fill="#000"/><rect x="1077.8" y="557.0" width="12.0" height="12.0" fill="#000"/><rect x="1083.9" y="557.0" width="12.0" height="12.0" fill="#000"/><rect x="1090.0" y="557.0" width="12.0" height="12.0" fill="#000"/><rect x="1096.0" y="557.0" width="12.0" height="12.0" fill="#000"/><rect x="1102.1" y="556.6" width="12.0" height="12.0" fill="#000"/><rect x="1108.2" y="556.3" width="12.0" height="12.0" fill="#000"/><rect x="1114.2" y="555.9" width="12.0" height="12.0" fill="#000"/><rect x="1120.3" y="555.5" width="12.0" height="12.0" fill="#000"/><rect x="1126.4" y="555.2" width="12.0" height="12.0" fill="#000"/><rect x="1132.4" y="554.5" width="12.0" height="12.0" fill="#000"/><rect x="1138.5" y="553.4" width="12.0" height="12.0" fill="#000"/><rect x="1144.6" y="543.6" width="12.0" height="12.0" fill="#000"/><rect x="1150.6" y="521.0" width="12.0" height="12.0" fill="#000"/><rect x="1156.7" y="491.6" width="12.0" height="12.0" fill="#000"/><rect x="1162.8" y="457.1" width="12.0" height="12.0" fill="#000"/><rect x="1168.8" y="421.8" width="12.0" height="12.0" fill="#000"/><rect x="1174.9" y="389.9" width="12.0" height="12.0" fill="#000"/><rect x="1181.0" y="360.8" width="12.0" height="12.0" fill="#000"/><rect x="1187.0" y="331.7" width="12.0" height="12.0" fill="#000"/><rect x="1193.1" y="304.5" width="12.0" height="12.0" fill="#000"/><rect x="1199.2" y="279.1" width="12.0" height="12.0" fill="#000"/><rect x="1205.2" y="258.3" width="12.0" height="12.0" fill="#000"/><rect x="1211.3" y="240.9" width="12.0" height="12.0" fill="#000"/><rect x="1217.4" y="226.4" width="12.0" height="12.0" fill="#000"/><rect x="1223.4" y="213.7" width="12.0" height="12.0" fill="#000"/><rect x="1229.5" y="202.8" width="12.0" height="12.0" fill="#000"/><rect x="1235.6" y="191.8" width="12.0" height="12.0" fill="#000"/><rect x="1241.6" y="179.1" width="12.0" height="12.0" fill="#000"/><rect x="1247.7" y="168.2" width="12.0" height="12.0" fill="#000"/><rect x="1253.8" y="157.3" width="12.0" height="12.0" fill="#000"/><rect x="1259.8" y="146.4" width="12.0" height="12.0" fill="#000"/><rect x="1265.9" y="139.2" width="12.0" height="12.0" fill="#000"/><rect x="1272.0" y="130.4" width="12.0" height="12.0" fill="#000"/><rect x="1278.0" y="122.8" width="12.0" height="12.0" fill="#000"/><rect x="1284.1" y="115.9" width="12.0" height="12.0" fill="#000"/><rect x="1290.2" y="110.1" width="12.0" height="12.0" fill="#000"/><rect x="1296.2" y="105.0" width="12.0" height="12.0" fill="#000"/><rect x="1302.3" y="100.7" width="12.0" height="12.0" fill="#000"/><rect x="1308.4" y="96.7" width="12.0" height="12.0" fill="#000"/><rect x="1314.4" y="92.7" width="12.0" height="12.0" fill="#000"/><rect x="1320.5" y="89.4" width="12.0" height="12.0" fill="#000"/><rect x="1326.6" y="85.4" width="12.0" height="12.0" fill="#000"/><rect x="1332.6" y="82.5" width="12.0" height="12.0" fill="#000"/><rect x="1338.7" y="79.9" width="12.0" height="12.0" fill="#000"/><rect x="1344.8" y="77.4" width="12.0" height="12.0" fill="#000"/><rect x="1350.8" y="75.6" width="12.0" height="12.0" fill="#000"/><rect x="1356.9" y="74.1" width="12.0" height="12.0" fill="#000"/><rect x="1363.0" y="73.0" width="12.0" height="12.0" fill="#000"/><rect x="1369.0" y="72.3" width="12.0" height="12.0" fill="#000"/><rect x="1375.1" y="72.0" width="12.0" height="12.0" fill="#000"/><rect x="1381.2" y="72.0" width="12.0" height="12.0" fill="#000"/><rect x="1387.2" y="72.0" width="12.0" height="12.0" fill="#000"/><rect x="1393.3" y="72.0" width="12.0" height="12.0" fill="#000"/><rect x="1399.4" y="72.0" width="12.0" height="12.0" fill="#000"/><rect x="1405.4" y="72.0" width="12.0" height="12.0" fill="#000"/><rect x="1411.5" y="72.0" width="12.0" height="12.0" fill="#000"/><rect x="1417.6" y="72.0" width="12.0" height="12.0" fill="#000"/><rect x="1423.6" y="72.0" width="12.0" height="12.0" fill="#000"/><rect x="1429.7" y="72.0" width="12.0" height="12.0" fill="#000"/><rect x="1435.8" y="72.0" width="12.0" height="12.0" fill="#000"/><rect x="1441.8" y="72.0" width="12.0" height="12.0" fill="#000"/><rect x="1447.9" y="72.0" width="12.0" height="12.0" fill="#000"/><rect x="1454.0" y="72.0" width="12.0" height="12.0" fill="#000"/><rect x="1460.0" y="72.0" width="12.0" height="12.0" fill="#000"/><rect x="1466.1" y="72.0" width="12.0" height="12.0" fill="#000"/><rect x="1472.2" y="72.0" width="12.0" height="12.0" fill="#000"/><rect x="1478.2" y="72.0" width="12.0" height="12.0" fill="#000"/><rect x="1484.3" y="72.0" width="12.0" height="12.0" fill="#000"/><rect x="1490.4" y="72.0" width="12.0" height="12.0" fill="#000"/><rect x="1496.4" y="72.0" width="12.0" height="12.0" fill="#000"/><rect x="1502.5" y="72.0" width="12.0" height="12.0" fill="#000"/><rect x="1508.6" y="72.0" width="12.0" height="12.0" fill="#000"/><rect x="1514.6" y="72.0" width="12.0" height="12.0" fill="#000"/><rect x="1520.7" y="72.0" width="12.0" height="12.0" fill="#000"/><rect x="1526.8" y="72.0" width="12.0" height="12.0" fill="#000"/><rect x="1532.8" y="72.0" width="12.0" height="12.0" fill="#000"/><rect x="1538.9" y="72.0" width="12.0" height="12.0" fill="#000"/><rect x="1545.0" y="72.0" width="12.0" height="12.0" fill="#000"/><rect x="1551.0" y="72.0" width="12.0" height="12.0" fill="#000"/><rect x="1557.1" y="72.0" width="12.0" height="12.0" fill="#000"/><rect x="1563.2" y="72.0" width="12.0" height="12.0" fill="#000"/><rect x="1569.2" y="72.0" width="12.0" height="12.0" fill="#000"/><rect x="1575.3" y="72.0" width="12.0" height="12.0" fill="#000"/><rect x="1581.4" y="72.0" width="12.0" height="12.0" fill="#000"/><rect x="1587.4" y="72.0" width="12.0" height="12.0" fill="#000"/><rect x="1593.5" y="72.0" width="12.0" height="12.0" fill="#000"/><rect x="1599.6" y="72.0" width="12.0" height="12.0" fill="#000"/><rect x="1605.6" y="72.0" width="12.0" height="12.0" fill="#000"/><rect x="1611.7" y="72.0" width="12.0" height="12.0" fill="#000"/><rect x="1617.8" y="72.0" width="12.0" height="12.0" fill="#000"/><rect x="1623.8" y="72.0" width="12.0" height="12.0" fill="#000"/><rect x="1629.9" y="72.0" width="12.0" height="12.0" fill="#000"/><rect x="1636.0" y="72.0" width="12.0" height="12.0" fill="#000"/><rect x="1642.0" y="72.0" width="12.0" height="12.0" fill="#000"/><rect x="1648.1" y="72.0" width="12.0" height="12.0" fill="#000"/><rect x="1654.2" y="72.0" width="12.0" height="12.0" fill="#000"/><rect x="1660.2" y="72.0" width="12.0" height="12.0" fill="#000"/><rect x="1666.3" y="72.0" width="12.0" height="12.0" fill="#000"/><rect x="1672.4" y="72.0" width="12.0" height="12.0" fill="#000"/><rect x="1678.4" y="72.0" width="12.0" height="12.0" fill="#000"/><rect x="1684.5" y="72.0" width="12.0" height="12.0" fill="#000"/><rect x="1690.6" y="72.0" width="12.0" height="12.0" fill="#000"/><rect x="1696.6" y="72.0" width="12.0" height="12.0" fill="#000"/><rect x="1702.7" y="72.0" width="12.0" height="12.0" fill="#000"/><rect x="1708.8" y="72.0" width="12.0" height="12.0" fill="#000"/><rect x="1714.8" y="72.0" width="12.0" height="12.0" fill="#000"/><rect x="1720.9" y="72.0" width="12.0" height="12.0" fill="#000"/><rect x="1727.0" y="72.0" width="12.0" height="12.0" fill="#000"/><rect x="1733.0" y="72.0" width="12.0" height="12.0" fill="#000"/><rect x="1739.1" y="72.0" width="12.0" height="12.0" fill="#000"/><rect x="1745.2" y="72.0" width="12.0" height="12.0" fill="#000"/><rect x="1751.2" y="72.0" width="12.0" height="12.0" fill="#000"/><rect x="1757.3" y="72.0" width="12.0" height="12.0" fill="#000"/><rect x="1763.4" y="72.0" width="12.0" height="12.0" fill="#000"/><rect x="1769.4" y="72.0" width="12.0" height="12.0" fill="#000"/><rect x="1775.5" y="72.0" width="12.0" height="12.0" fill="#000"/></g>
<path d="M1053.5 562.3L1059.6 562.3L1065.6 562.3L1071.7 562.3L1077.8 562.3L1083.8 562.3L1089.9 562.3L1096.0 562.3L1102.0 562.3L1108.1 561.2L1114.2 551.0L1120.2 532.1L1126.3 509.6L1132.4 490.3L1138.4 472.2L1144.5 455.1L1150.6 437.6L1156.6 421.3L1162.7 406.8L1168.8 393.0L1174.8 381.3L1180.9 370.4L1187.0 360.6L1193.0 350.5L1199.1 341.4L1205.2 332.3L1211.2 323.9L1217.3 315.9L1223.4 305.0L1229.4 290.5L1235.5 277.1L1241.6 265.1L1247.6 251.3L1253.7 238.9L1259.8 227.6L1265.8 214.2L1271.9 200.4L1278.0 188.8L1284.0 176.8L1290.1 165.2L1296.2 153.5L1302.2 141.5L1308.3 128.8L1314.4 119.7L1320.4 114.3L1326.5 110.7L1332.6 107.0L1338.6 103.0L1344.7 99.0L1350.8 95.0L1356.8 91.8L1362.9 89.2L1369.0 87.0L1375.0 84.9L1381.1 83.0L1387.2 80.9L1393.2 79.4L1399.3 78.0L1405.4 76.5L1411.4 75.0L1417.5 73.6L1423.6 72.5L1429.6 71.0L1435.7 70.0L1441.8 68.9L1447.8 67.8L1453.9 66.7L1460.0 65.6L1466.0 64.5L1472.1 64.0L1478.2 63.4L1484.2 62.9L1490.3 62.3L1496.4 62.0L1502.4 61.6L1508.5 61.6L1514.6 61.6L1520.6 61.6L1526.7 61.6L1532.8 61.6L1538.8 61.6L1544.9 61.6L1551.0 61.6L1557.0 61.6L1563.1 61.6L1569.2 61.6L1575.2 61.6L1581.3 61.6L1587.4 61.6L1593.4 61.6L1599.5 61.6L1605.6 61.6L1611.6 61.6L1617.7 61.6L1623.8 61.6L1629.8 61.6L1635.9 61.6L1642.0 61.6L1648.0 61.6L1654.1 61.6L1660.2 61.6L1666.2 61.6L1672.3 61.6L1678.4 61.6L1684.4 61.6L1690.5 61.6L1696.6 61.6L1702.6 61.6L1708.7 61.6L1714.8 61.6L1720.8 61.6L1726.9 61.6L1733.0 61.6L1739.0 61.6L1745.1 61.6L1751.2 61.6L1757.2 61.6L1763.3 61.6L1769.4 61.6" fill="none" stroke="#ff0000" stroke-width="3.0" stroke-linejoin="round"/>
<g><circle cx="1053.5" cy="562.3" r="7.1" fill="#ff0000"/><circle cx="1059.6" cy="562.3" r="7.1" fill="#ff0000"/><circle cx="1065.6" cy="562.3" r="7.1" fill="#ff0000"/><circle cx="1071.7" cy="562.3" r="7.1" fill="#ff0000"/><circle cx="1077.8" cy="562.3" r="7.1" fill="#ff0000"/><circle cx="1083.8" cy="562.3" r="7.1" fill="#ff0000"/><circle cx="1089.9" cy="562.3" r="7.1" fill="#ff0000"/><circle cx="1096.0" cy="562.3" r="7.1" fill="#ff0000"/><circle cx="1102.0" cy="562.3" r="7.1" fill="#ff0000"/><circle cx="1108.1" cy="561.2" r="7.1" fill="#ff0000"/><circle cx="1114.2" cy="551.0" r="7.1" fill="#ff0000"/><circle cx="1120.2" cy="532.1" r="7.1" fill="#ff0000"/><circle cx="1126.3" cy="509.6" r="7.1" fill="#ff0000"/><circle cx="1132.4" cy="490.3" r="7.1" fill="#ff0000"/><circle cx="1138.4" cy="472.2" r="7.1" fill="#ff0000"/><circle cx="1144.5" cy="455.1" r="7.1" fill="#ff0000"/><circle cx="1150.6" cy="437.6" r="7.1" fill="#ff0000"/><circle cx="1156.6" cy="421.3" r="7.1" fill="#ff0000"/><circle cx="1162.7" cy="406.8" r="7.1" fill="#ff0000"/><circle cx="1168.8" cy="393.0" r="7.1" fill="#ff0000"/><circle cx="1174.8" cy="381.3" r="7.1" fill="#ff0000"/><circle cx="1180.9" cy="370.4" r="7.1" fill="#ff0000"/><circle cx="1187.0" cy="360.6" r="7.1" fill="#ff0000"/><circle cx="1193.0" cy="350.5" r="7.1" fill="#ff0000"/><circle cx="1199.1" cy="341.4" r="7.1" fill="#ff0000"/><circle cx="1205.2" cy="332.3" r="7.1" fill="#ff0000"/><circle cx="1211.2" cy="323.9" r="7.1" fill="#ff0000"/><circle cx="1217.3" cy="315.9" r="7.1" fill="#ff0000"/><circle cx="1223.4" cy="305.0" r="7.1" fill="#ff0000"/><circle cx="1229.4" cy="290.5" r="7.1" fill="#ff0000"/><circle cx="1235.5" cy="277.1" r="7.1" fill="#ff0000"/><circle cx="1241.6" cy="265.1" r="7.1" fill="#ff0000"/><circle cx="1247.6" cy="251.3" r="7.1" fill="#ff0000"/><circle cx="1253.7" cy="238.9" r="7.1" fill="#ff0000"/><circle cx="1259.8" cy="227.6" r="7.1" fill="#ff0000"/><circle cx="1265.8" cy="214.2" r="7.1" fill="#ff0000"/><circle cx="1271.9" cy="200.4" r="7.1" fill="#ff0000"/><circle cx="1278.0" cy="188.8" r="7.1" fill="#ff0000"/><circle cx="1284.0" cy="176.8" r="7.1" fill="#ff0000"/><circle cx="1290.1" cy="165.2" r="7.1" fill="#ff0000"/><circle cx="1296.2" cy="153.5" r="7.1" fill="#ff0000"/><circle cx="1302.2" cy="141.5" r="7.1" fill="#ff0000"/><circle cx="1308.3" cy="128.8" r="7.1" fill="#ff0000"/><circle cx="1314.4" cy="119.7" r="7.1" fill="#ff0000"/><circle cx="1320.4" cy="114.3" r="7.1" fill="#ff0000"/><circle cx="1326.5" cy="110.7" r="7.1" fill="#ff0000"/><circle cx="1332.6" cy="107.0" r="7.1" fill="#ff0000"/><circle cx="1338.6" cy="103.0" r="7.1" fill="#ff0000"/><circle cx="1344.7" cy="99.0" r="7.1" fill="#ff0000"/><circle cx="1350.8" cy="95.0" r="7.1" fill="#ff0000"/><circle cx="1356.8" cy="91.8" r="7.1" fill="#ff0000"/><circle cx="1362.9" cy="89.2" r="7.1" fill="#ff0000"/><circle cx="1369.0" cy="87.0" r="7.1" fill="#ff0000"/><circle cx="1375.0" cy="84.9" r="7.1" fill="#ff0000"/><circle cx="1381.1" cy="83.0" r="7.1" fill="#ff0000"/><circle cx="1387.2" cy="80.9" r="7.1" fill="#ff0000"/><circle cx="1393.2" cy="79.4" r="7.1" fill="#ff0000"/><circle cx="1399.3" cy="78.0" r="7.1" fill="#ff0000"/><circle cx="1405.4" cy="76.5" r="7.1" fill="#ff0000"/><circle cx="1411.4" cy="75.0" r="7.1" fill="#ff0000"/><circle cx="1417.5" cy="73.6" r="7.1" fill="#ff0000"/><circle cx="1423.6" cy="72.5" r="7.1" fill="#ff0000"/><circle cx="1429.6" cy="71.0" r="7.1" fill="#ff0000"/><circle cx="1435.7" cy="70.0" r="7.1" fill="#ff0000"/><circle cx="1441.8" cy="68.9" r="7.1" fill="#ff0000"/><circle cx="1447.8" cy="67.8" r="7.1" fill="#ff0000"/><circle cx="1453.9" cy="66.7" r="7.1" fill="#ff0000"/><circle cx="1460.0" cy="65.6" r="7.1" fill="#ff0000"/><circle cx="1466.0" cy="64.5" r="7.1" fill="#ff0000"/><circle cx="1472.1" cy="64.0" r="7.1" fill="#ff0000"/><circle cx="1478.2" cy="63.4" r="7.1" fill="#ff0000"/><circle cx="1484.2" cy="62.9" r="7.1" fill="#ff0000"/><circle cx="1490.3" cy="62.3" r="7.1" fill="#ff0000"/><circle cx="1496.4" cy="62.0" r="7.1" fill="#ff0000"/><circle cx="1502.4" cy="61.6" r="7.1" fill="#ff0000"/><circle cx="1508.5" cy="61.6" r="7.1" fill="#ff0000"/><circle cx="1514.6" cy="61.6" r="7.1" fill="#ff0000"/><circle cx="1520.6" cy="61.6" r="7.1" fill="#ff0000"/><circle cx="1526.7" cy="61.6" r="7.1" fill="#ff0000"/><circle cx="1532.8" cy="61.6" r="7.1" fill="#ff0000"/><circle cx="1538.8" cy="61.6" r="7.1" fill="#ff0000"/><circle cx="1544.9" cy="61.6" r="7.1" fill="#ff0000"/><circle cx="1551.0" cy="61.6" r="7.1" fill="#ff0000"/><circle cx="1557.0" cy="61.6" r="7.1" fill="#ff0000"/><circle cx="1563.1" cy="61.6" r="7.1" fill="#ff0000"/><circle cx="1569.2" cy="61.6" r="7.1" fill="#ff0000"/><circle cx="1575.2" cy="61.6" r="7.1" fill="#ff0000"/><circle cx="1581.3" cy="61.6" r="7.1" fill="#ff0000"/><circle cx="1587.4" cy="61.6" r="7.1" fill="#ff0000"/><circle cx="1593.4" cy="61.6" r="7.1" fill="#ff0000"/><circle cx="1599.5" cy="61.6" r="7.1" fill="#ff0000"/><circle cx="1605.6" cy="61.6" r="7.1" fill="#ff0000"/><circle cx="1611.6" cy="61.6" r="7.1" fill="#ff0000"/><circle cx="1617.7" cy="61.6" r="7.1" fill="#ff0000"/><circle cx="1623.8" cy="61.6" r="7.1" fill="#ff0000"/><circle cx="1629.8" cy="61.6" r="7.1" fill="#ff0000"/><circle cx="1635.9" cy="61.6" r="7.1" fill="#ff0000"/><circle cx="1642.0" cy="61.6" r="7.1" fill="#ff0000"/><circle cx="1648.0" cy="61.6" r="7.1" fill="#ff0000"/><circle cx="1654.1" cy="61.6" r="7.1" fill="#ff0000"/><circle cx="1660.2" cy="61.6" r="7.1" fill="#ff0000"/><circle cx="1666.2" cy="61.6" r="7.1" fill="#ff0000"/><circle cx="1672.3" cy="61.6" r="7.1" fill="#ff0000"/><circle cx="1678.4" cy="61.6" r="7.1" fill="#ff0000"/><circle cx="1684.4" cy="61.6" r="7.1" fill="#ff0000"/><circle cx="1690.5" cy="61.6" r="7.1" fill="#ff0000"/><circle cx="1696.6" cy="61.6" r="7.1" fill="#ff0000"/><circle cx="1702.6" cy="61.6" r="7.1" fill="#ff0000"/><circle cx="1708.7" cy="61.6" r="7.1" fill="#ff0000"/><circle cx="1714.8" cy="61.6" r="7.1" fill="#ff0000"/><circle cx="1720.8" cy="61.6" r="7.1" fill="#ff0000"/><circle cx="1726.9" cy="61.6" r="7.1" fill="#ff0000"/><circle cx="1733.0" cy="61.6" r="7.1" fill="#ff0000"/><circle cx="1739.0" cy="61.6" r="7.1" fill="#ff0000"/><circle cx="1745.1" cy="61.6" r="7.1" fill="#ff0000"/><circle cx="1751.2" cy="61.6" r="7.1" fill="#ff0000"/><circle cx="1757.2" cy="61.6" r="7.1" fill="#ff0000"/><circle cx="1763.3" cy="61.6" r="7.1" fill="#ff0000"/><circle cx="1769.4" cy="61.6" r="7.1" fill="#ff0000"/></g>
<path d="M1053.5 561.2L1059.6 561.2L1065.6 561.2L1071.7 561.2L1077.8 561.2L1083.8 561.2L1089.9 559.4L1096.0 552.1L1102.0 540.5L1108.1 526.7L1114.2 513.6L1120.2 502.7L1126.3 494.0L1132.4 487.8L1138.4 482.3L1144.5 477.6L1150.6 474.0L1156.6 470.7L1162.7 467.8L1168.8 465.3L1174.8 463.1L1180.9 460.0L1187.0 457.4L1193.0 455.1L1199.1 453.0L1205.2 450.9L1211.2 448.9L1217.3 446.7L1223.4 444.4L1229.4 441.9L1235.5 439.3L1241.6 436.5L1247.6 433.6L1253.7 430.7L1259.8 427.8L1265.8 424.8L1271.9 422.0L1278.0 419.1L1284.0 416.2L1290.1 413.3L1296.2 410.4L1302.2 407.5L1308.3 404.6L1314.4 401.8L1320.4 398.9L1326.5 396.0L1332.6 393.1L1338.6 390.3L1344.7 387.4L1350.8 384.7L1356.8 382.0L1362.9 379.2L1369.0 376.4L1375.0 373.6L1381.1 370.5L1387.2 367.4L1393.2 364.0L1399.3 360.6L1405.4 357.2L1411.4 353.7L1417.5 350.3L1423.6 347.0L1429.6 343.8L1435.7 340.6L1441.8 337.4L1447.8 334.2L1453.9 330.9L1460.0 327.6L1466.0 324.0L1472.1 320.7L1478.2 317.9L1484.2 315.5L1490.3 313.1L1496.4 310.7L1502.4 308.0L1508.5 305.1L1514.6 302.0L1520.6 298.9L1526.7 295.7L1532.8 292.6L1538.8 289.5L1544.9 286.5L1551.0 283.4L1557.0 280.3L1563.1 277.3L1569.2 274.4L1575.2 271.8L1581.3 269.5L1587.4 267.5L1593.4 265.5L1599.5 263.7L1605.6 262.0L1611.6 260.4L1617.7 258.9L1623.8 257.5L1629.8 256.2L1635.9 255.0L1642.0 253.8L1648.0 252.7L1654.1 251.5L1660.2 250.4L1666.2 249.3L1672.3 248.3L1678.4 247.2L1684.4 246.2L1690.5 245.2L1696.6 244.2L1702.6 243.2L1708.7 242.2L1714.8 241.2L1720.8 240.2L1726.9 239.3L1733.0 238.4L1739.0 237.5L1745.1 236.7L1751.2 235.9L1757.2 235.1L1763.3 234.4L1769.4 233.6L1775.4 232.9L1781.5 232.2L1787.6 231.5L1793.6 230.9" fill="none" stroke="#0000ff" stroke-width="3.0" stroke-linejoin="round"/>
<g><path d="M1053.5 551.9L1062.5 567.3L1044.5 567.3Z" fill="#0000ff"/><path d="M1059.6 551.9L1068.6 567.3L1050.6 567.3Z" fill="#0000ff"/><path d="M1065.6 551.9L1074.6 567.3L1056.6 567.3Z" fill="#0000ff"/><path d="M1071.7 551.9L1080.7 567.3L1062.7 567.3Z" fill="#0000ff"/><path d="M1077.8 551.9L1086.8 567.3L1068.8 567.3Z" fill="#0000ff"/><path d="M1083.8 551.9L1092.8 567.3L1074.8 567.3Z" fill="#0000ff"/><path d="M1089.9 550.1L1098.9 565.5L1080.9 565.5Z" fill="#0000ff"/><path d="M1096.0 542.9L1105.0 558.3L1087.0 558.3Z" fill="#0000ff"/><path d="M1102.0 531.2L1111.0 546.6L1093.0 546.6Z" fill="#0000ff"/><path d="M1108.1 517.4L1117.1 532.8L1099.1 532.8Z" fill="#0000ff"/><path d="M1114.2 504.3L1123.2 519.7L1105.2 519.7Z" fill="#0000ff"/><path d="M1120.2 493.4L1129.2 508.8L1111.2 508.8Z" fill="#0000ff"/><path d="M1126.3 484.7L1135.3 500.1L1117.3 500.1Z" fill="#0000ff"/><path d="M1132.4 478.6L1141.4 494.0L1123.4 494.0Z" fill="#0000ff"/><path d="M1138.4 473.1L1147.4 488.5L1129.4 488.5Z" fill="#0000ff"/><path d="M1144.5 468.4L1153.5 483.8L1135.5 483.8Z" fill="#0000ff"/><path d="M1150.6 464.7L1159.6 480.1L1141.6 480.1Z" fill="#0000ff"/><path d="M1156.6 461.5L1165.6 476.9L1147.6 476.9Z" fill="#0000ff"/><path d="M1162.7 458.6L1171.7 474.0L1153.7 474.0Z" fill="#0000ff"/><path d="M1168.8 456.0L1177.8 471.4L1159.8 471.4Z" fill="#0000ff"/><path d="M1174.8 453.8L1183.8 469.2L1165.8 469.2Z" fill="#0000ff"/><path d="M1180.9 450.8L1189.9 466.2L1171.9 466.2Z" fill="#0000ff"/><path d="M1187.0 448.2L1196.0 463.6L1178.0 463.6Z" fill="#0000ff"/><path d="M1193.0 445.9L1202.0 461.3L1184.0 461.3Z" fill="#0000ff"/><path d="M1199.1 443.8L1208.1 459.2L1190.1 459.2Z" fill="#0000ff"/><path d="M1205.2 441.7L1214.2 457.1L1196.2 457.1Z" fill="#0000ff"/><path d="M1211.2 439.6L1220.2 455.0L1202.2 455.0Z" fill="#0000ff"/><path d="M1217.3 437.5L1226.3 452.9L1208.3 452.9Z" fill="#0000ff"/><path d="M1223.4 435.2L1232.4 450.6L1214.4 450.6Z" fill="#0000ff"/><path d="M1229.4 432.7L1238.4 448.1L1220.4 448.1Z" fill="#0000ff"/><path d="M1235.5 430.0L1244.5 445.4L1226.5 445.4Z" fill="#0000ff"/><path d="M1241.6 427.2L1250.6 442.6L1232.6 442.6Z" fill="#0000ff"/><path d="M1247.6 424.4L1256.6 439.8L1238.6 439.8Z" fill="#0000ff"/><path d="M1253.7 421.4L1262.7 436.8L1244.7 436.8Z" fill="#0000ff"/><path d="M1259.8 418.5L1268.8 433.9L1250.8 433.9Z" fill="#0000ff"/><path d="M1265.8 415.6L1274.8 431.0L1256.8 431.0Z" fill="#0000ff"/><path d="M1271.9 412.7L1280.9 428.1L1262.9 428.1Z" fill="#0000ff"/><path d="M1278.0 409.9L1287.0 425.3L1269.0 425.3Z" fill="#0000ff"/><path d="M1284.0 407.0L1293.0 422.4L1275.0 422.4Z" fill="#0000ff"/><path d="M1290.1 404.1L1299.1 419.5L1281.1 419.5Z" fill="#0000ff"/><path d="M1296.2 401.2L1305.2 416.6L1287.2 416.6Z" fill="#0000ff"/><path d="M1302.2 398.3L1311.2 413.7L1293.2 413.7Z" fill="#0000ff"/><path d="M1308.3 395.4L1317.3 410.8L1299.3 410.8Z" fill="#0000ff"/><path d="M1314.4 392.5L1323.4 407.9L1305.4 407.9Z" fill="#0000ff"/><path d="M1320.4 389.6L1329.4 405.0L1311.4 405.0Z" fill="#0000ff"/><path d="M1326.5 386.7L1335.5 402.1L1317.5 402.1Z" fill="#0000ff"/><path d="M1332.6 383.9L1341.6 399.3L1323.6 399.3Z" fill="#0000ff"/><path d="M1338.6 381.0L1347.6 396.4L1329.6 396.4Z" fill="#0000ff"/><path d="M1344.7 378.2L1353.7 393.6L1335.7 393.6Z" fill="#0000ff"/><path d="M1350.8 375.5L1359.8 390.9L1341.8 390.9Z" fill="#0000ff"/><path d="M1356.8 372.7L1365.8 388.1L1347.8 388.1Z" fill="#0000ff"/><path d="M1362.9 370.0L1371.9 385.4L1353.9 385.4Z" fill="#0000ff"/><path d="M1369.0 367.2L1378.0 382.6L1360.0 382.6Z" fill="#0000ff"/><path d="M1375.0 364.3L1384.0 379.7L1366.0 379.7Z" fill="#0000ff"/><path d="M1381.1 361.3L1390.1 376.7L1372.1 376.7Z" fill="#0000ff"/><path d="M1387.2 358.1L1396.2 373.5L1378.2 373.5Z" fill="#0000ff"/><path d="M1393.2 354.8L1402.2 370.2L1384.2 370.2Z" fill="#0000ff"/><path d="M1399.3 351.4L1408.3 366.8L1390.3 366.8Z" fill="#0000ff"/><path d="M1405.4 347.9L1414.4 363.3L1396.4 363.3Z" fill="#0000ff"/><path d="M1411.4 344.5L1420.4 359.9L1402.4 359.9Z" fill="#0000ff"/><path d="M1417.5 341.1L1426.5 356.5L1408.5 356.5Z" fill="#0000ff"/><path d="M1423.6 337.8L1432.6 353.2L1414.6 353.2Z" fill="#0000ff"/><path d="M1429.6 334.6L1438.6 350.0L1420.6 350.0Z" fill="#0000ff"/><path d="M1435.7 331.4L1444.7 346.8L1426.7 346.8Z" fill="#0000ff"/><path d="M1441.8 328.2L1450.8 343.6L1432.8 343.6Z" fill="#0000ff"/><path d="M1447.8 324.9L1456.8 340.3L1438.8 340.3Z" fill="#0000ff"/><path d="M1453.9 321.7L1462.9 337.1L1444.9 337.1Z" fill="#0000ff"/><path d="M1460.0 318.3L1469.0 333.7L1451.0 333.7Z" fill="#0000ff"/><path d="M1466.0 314.8L1475.0 330.2L1457.0 330.2Z" fill="#0000ff"/><path d="M1472.1 311.4L1481.1 326.8L1463.1 326.8Z" fill="#0000ff"/><path d="M1478.2 308.7L1487.2 324.1L1469.2 324.1Z" fill="#0000ff"/><path d="M1484.2 306.2L1493.2 321.6L1475.2 321.6Z" fill="#0000ff"/><path d="M1490.3 303.9L1499.3 319.3L1481.3 319.3Z" fill="#0000ff"/><path d="M1496.4 301.5L1505.4 316.9L1487.4 316.9Z" fill="#0000ff"/><path d="M1502.4 298.8L1511.4 314.2L1493.4 314.2Z" fill="#0000ff"/><path d="M1508.5 295.8L1517.5 311.2L1499.5 311.2Z" fill="#0000ff"/><path d="M1514.6 292.8L1523.6 308.2L1505.6 308.2Z" fill="#0000ff"/><path d="M1520.6 289.6L1529.6 305.0L1511.6 305.0Z" fill="#0000ff"/><path d="M1526.7 286.5L1535.7 301.9L1517.7 301.9Z" fill="#0000ff"/><path d="M1532.8 283.3L1541.8 298.7L1523.8 298.7Z" fill="#0000ff"/><path d="M1538.8 280.3L1547.8 295.7L1529.8 295.7Z" fill="#0000ff"/><path d="M1544.9 277.3L1553.9 292.7L1535.9 292.7Z" fill="#0000ff"/><path d="M1551.0 274.2L1560.0 289.6L1542.0 289.6Z" fill="#0000ff"/><path d="M1557.0 271.1L1566.0 286.5L1548.0 286.5Z" fill="#0000ff"/><path d="M1563.1 268.1L1572.1 283.5L1554.1 283.5Z" fill="#0000ff"/><path d="M1569.2 265.2L1578.2 280.6L1560.2 280.6Z" fill="#0000ff"/><path d="M1575.2 262.6L1584.2 278.0L1566.2 278.0Z" fill="#0000ff"/><path d="M1581.3 260.3L1590.3 275.7L1572.3 275.7Z" fill="#0000ff"/><path d="M1587.4 258.2L1596.4 273.6L1578.4 273.6Z" fill="#0000ff"/><path d="M1593.4 256.3L1602.4 271.7L1584.4 271.7Z" fill="#0000ff"/><path d="M1599.5 254.5L1608.5 269.9L1590.5 269.9Z" fill="#0000ff"/><path d="M1605.6 252.8L1614.6 268.2L1596.6 268.2Z" fill="#0000ff"/><path d="M1611.6 251.2L1620.6 266.6L1602.6 266.6Z" fill="#0000ff"/><path d="M1617.7 249.7L1626.7 265.1L1608.7 265.1Z" fill="#0000ff"/><path d="M1623.8 248.3L1632.8 263.7L1614.8 263.7Z" fill="#0000ff"/><path d="M1629.8 247.0L1638.8 262.4L1620.8 262.4Z" fill="#0000ff"/><path d="M1635.9 245.7L1644.9 261.1L1626.9 261.1Z" fill="#0000ff"/><path d="M1642.0 244.5L1651.0 259.9L1633.0 259.9Z" fill="#0000ff"/><path d="M1648.0 243.4L1657.0 258.8L1639.0 258.8Z" fill="#0000ff"/><path d="M1654.1 242.3L1663.1 257.7L1645.1 257.7Z" fill="#0000ff"/><path d="M1660.2 241.2L1669.2 256.6L1651.2 256.6Z" fill="#0000ff"/><path d="M1666.2 240.1L1675.2 255.5L1657.2 255.5Z" fill="#0000ff"/><path d="M1672.3 239.0L1681.3 254.4L1663.3 254.4Z" fill="#0000ff"/><path d="M1678.4 238.0L1687.4 253.4L1669.4 253.4Z" fill="#0000ff"/><path d="M1684.4 236.9L1693.4 252.3L1675.4 252.3Z" fill="#0000ff"/><path d="M1690.5 235.9L1699.5 251.3L1681.5 251.3Z" fill="#0000ff"/><path d="M1696.6 234.9L1705.6 250.3L1687.6 250.3Z" fill="#0000ff"/><path d="M1702.6 233.9L1711.6 249.3L1693.6 249.3Z" fill="#0000ff"/><path d="M1708.7 232.9L1717.7 248.3L1699.7 248.3Z" fill="#0000ff"/><path d="M1714.8 232.0L1723.8 247.4L1705.8 247.4Z" fill="#0000ff"/><path d="M1720.8 231.0L1729.8 246.4L1711.8 246.4Z" fill="#0000ff"/><path d="M1726.9 230.1L1735.9 245.5L1717.9 245.5Z" fill="#0000ff"/><path d="M1733.0 229.2L1742.0 244.6L1724.0 244.6Z" fill="#0000ff"/><path d="M1739.0 228.3L1748.0 243.7L1730.0 243.7Z" fill="#0000ff"/><path d="M1745.1 227.5L1754.1 242.9L1736.1 242.9Z" fill="#0000ff"/><path d="M1751.2 226.7L1760.2 242.1L1742.2 242.1Z" fill="#0000ff"/><path d="M1757.2 225.9L1766.2 241.3L1748.2 241.3Z" fill="#0000ff"/><path d="M1763.3 225.1L1772.3 240.5L1754.3 240.5Z" fill="#0000ff"/><path d="M1769.4 224.4L1778.4 239.8L1760.4 239.8Z" fill="#0000ff"/><path d="M1775.4 223.7L1784.4 239.1L1766.4 239.1Z" fill="#0000ff"/><path d="M1781.5 223.0L1790.5 238.4L1772.5 238.4Z" fill="#0000ff"/><path d="M1787.6 222.3L1796.6 237.7L1778.6 237.7Z" fill="#0000ff"/><path d="M1793.6 221.7L1802.6 237.1L1784.6 237.1Z" fill="#0000ff"/></g>
<rect x="1029.2" y="19.9" width="789.60" height="579.60" fill="none" stroke="#000" stroke-width="3.8"/>
<line x1="1029.2" y1="563.00" x2="1041.2" y2="563.00" stroke="#000" stroke-width="3.8"/>
<text x="1016.60" y="573.60" font-size="37" text-anchor="end">0</text>
<line x1="1029.2" y1="508.50" x2="1035.7" y2="508.50" stroke="#000" stroke-width="3.8"/>
<line x1="1029.2" y1="454.00" x2="1041.2" y2="454.00" stroke="#000" stroke-width="3.8"/>
<text x="1016.60" y="464.60" font-size="37" text-anchor="end">3</text>
<line x1="1029.2" y1="399.50" x2="1035.7" y2="399.50" stroke="#000" stroke-width="3.8"/>
<line x1="1029.2" y1="345.00" x2="1041.2" y2="345.00" stroke="#000" stroke-width="3.8"/>
<text x="1016.60" y="355.60" font-size="37" text-anchor="end">6</text>
<line x1="1029.2" y1="290.50" x2="1035.7" y2="290.50" stroke="#000" stroke-width="3.8"/>
<line x1="1029.2" y1="236.00" x2="1041.2" y2="236.00" stroke="#000" stroke-width="3.8"/>
<text x="1016.60" y="246.60" font-size="37" text-anchor="end">9</text>
<line x1="1029.2" y1="181.50" x2="1035.7" y2="181.50" stroke="#000" stroke-width="3.8"/>
<line x1="1029.2" y1="127.00" x2="1041.2" y2="127.00" stroke="#000" stroke-width="3.8"/>
<text x="1016.60" y="137.60" font-size="37" text-anchor="end">12</text>
<line x1="1029.2" y1="72.50" x2="1035.7" y2="72.50" stroke="#000" stroke-width="3.8"/>
<text x="1016.60" y="28.60" font-size="37" text-anchor="end">15</text>
<line x1="1053.50" y1="599.5" x2="1053.50" y2="586.5" stroke="#000" stroke-width="3.8"/>
<text x="1053.30" y="638.90" font-size="37" text-anchor="middle">0</text>
<line x1="1114.17" y1="599.5" x2="1114.17" y2="592.5" stroke="#000" stroke-width="3.8"/>
<line x1="1174.83" y1="599.5" x2="1174.83" y2="586.5" stroke="#000" stroke-width="3.8"/>
<text x="1174.63" y="638.90" font-size="37" text-anchor="middle">100</text>
<line x1="1235.50" y1="599.5" x2="1235.50" y2="592.5" stroke="#000" stroke-width="3.8"/>
<line x1="1296.17" y1="599.5" x2="1296.17" y2="586.5" stroke="#000" stroke-width="3.8"/>
<text x="1295.97" y="638.90" font-size="37" text-anchor="middle">200</text>
<line x1="1356.83" y1="599.5" x2="1356.83" y2="592.5" stroke="#000" stroke-width="3.8"/>
<line x1="1417.50" y1="599.5" x2="1417.50" y2="586.5" stroke="#000" stroke-width="3.8"/>
<text x="1417.30" y="638.90" font-size="37" text-anchor="middle">300</text>
<line x1="1478.17" y1="599.5" x2="1478.17" y2="592.5" stroke="#000" stroke-width="3.8"/>
<line x1="1538.83" y1="599.5" x2="1538.83" y2="586.5" stroke="#000" stroke-width="3.8"/>
<text x="1538.63" y="638.90" font-size="37" text-anchor="middle">400</text>
<line x1="1599.50" y1="599.5" x2="1599.50" y2="592.5" stroke="#000" stroke-width="3.8"/>
<line x1="1660.17" y1="599.5" x2="1660.17" y2="586.5" stroke="#000" stroke-width="3.8"/>
<text x="1659.97" y="638.90" font-size="37" text-anchor="middle">500</text>
<line x1="1720.83" y1="599.5" x2="1720.83" y2="592.5" stroke="#000" stroke-width="3.8"/>
<line x1="1781.50" y1="599.5" x2="1781.50" y2="586.5" stroke="#000" stroke-width="3.8"/>
<text x="1781.30" y="638.90" font-size="37" text-anchor="middle">600</text>
<text x="1348.80" y="679.80" font-size="36.6">Time (s)</text>
<text transform="translate(976,0) rotate(-90)" font-size="35.5"><tspan x="-331.2" font-size="36">TSP</tspan><tspan x="-259.4">(m</tspan><tspan dx="1.05" dy="-19" font-size="24">3</tspan><tspan dx="1.15" dy="19">)</tspan></text>
<text x="1083.80" y="80.20" font-size="60.3" text-anchor="middle">(b)</text>
<line x1="1535.8" y1="420.4" x2="1594.6" y2="420.4" stroke="#000" stroke-width="3.2"/>
<rect x="1558.8" y="413.9" width="13.0" height="13.0" fill="#000"/>
<text x="1601.90" y="427.80" font-size="34">EP</text>
<line x1="1535.8" y1="462.3" x2="1594.6" y2="462.3" stroke="#ff0000" stroke-width="3.2"/>
<circle cx="1565.3" cy="462.3" r="6.8" fill="#ff0000"/>
<text x="1601.90" y="470.50" font-size="34">EP/SiC-M10</text>
<line x1="1535.8" y1="504.9" x2="1594.6" y2="504.9" stroke="#0000ff" stroke-width="3.2"/>
<path d="M1565.3 495.7L1574.3 511.1L1556.3 511.1Z" fill="#0000ff"/>
<text x="1601.90" y="513.20" font-size="34">EP/SiC-M20</text>
</svg>
</body></html>
